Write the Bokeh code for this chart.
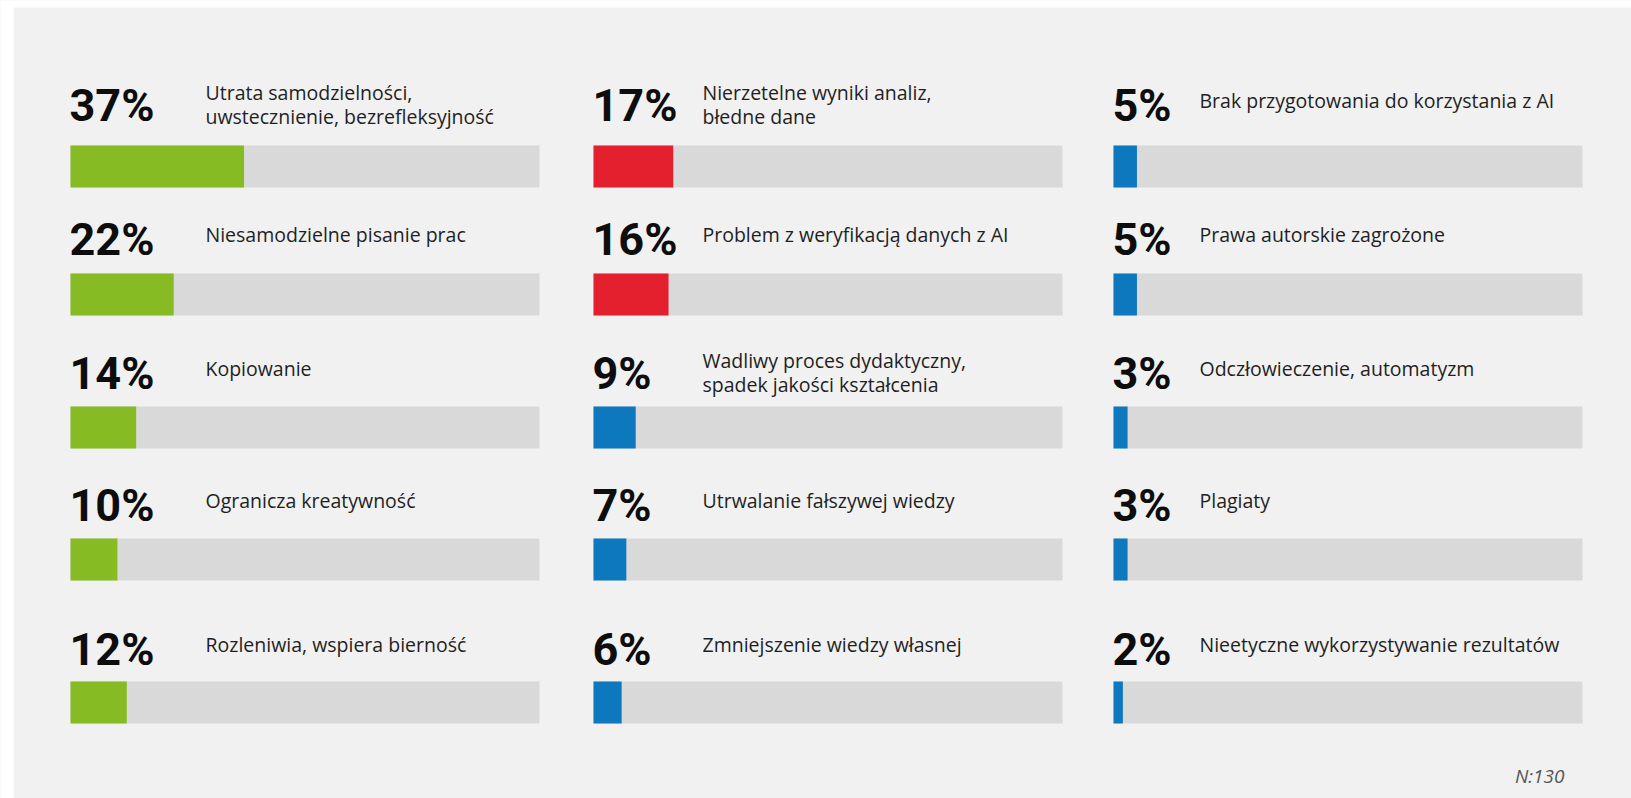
from bokeh.plotting import figure
from bokeh.models import Range1d, ColumnDataSource
from bokeh.core.properties import value
from bokeh.embed import file_html
from bokeh.resources import INLINE

# ---------------- data ----------------
col1_labels = ["Utrata samodzielności,\nuwstecznienie, bezrefleksyjność",
               "Niesamodzielne pisanie prac",
               "Kopiowanie",
               "Ogranicza kreatywność",
               "Rozleniwia, wspiera bierność"]
col1_values = [37, 22, 14, 10, 12]
col1_groups = ["green", "green", "green", "green", "green"]

col2_labels = ["Nierzetelne wyniki analiz,\nbłedne dane",
               "Problem z weryfikacją danych z AI",
               "Wadliwy proces dydaktyczny,\nspadek jakości kształcenia",
               "Utrwalanie fałszywej wiedzy",
               "Zmniejszenie wiedzy własnej"]
col2_values = [17, 16, 9, 7, 6]
col2_groups = ["red", "red", "blue", "blue", "blue"]

col3_labels = ["Brak przygotowania do korzystania z AI",
               "Prawa autorskie zagrożone",
               "Odczłowieczenie, automatyzm",
               "Plagiaty",
               "Nieetyczne wykorzystywanie rezultatów"]
col3_values = [5, 5, 3, 3, 2]
col3_groups = ["blue", "blue", "blue", "blue", "blue"]

note = "N:130"

# ---------------- layout / style ----------------
PALETTE = {"green": "#86BB23", "red": "#E41F2E", "blue": "#0E78BF"}
TRACK = "#D9D9D9"
PANEL = "#F1F1F1"

W, H = 1631, 798
COL_BAR_X = [70, 593, 1113]
COL_LABEL_X = [205, 702, 1199]
BAR_LEN = 469.0       # pixels for 100 %
ROW_NUM_TOP = [86, 220, 354, 486, 630]
ROW_BAR_TOP = [145, 273, 406, 538, 681]
BAR_H = 42

p = figure(width=W, height=H, output_backend="svg", toolbar_location=None,
           x_range=Range1d(0, W), y_range=Range1d(H, 0),
           min_border=0, background_fill_color=PANEL, border_fill_color=PANEL)
p.xaxis.visible = False
p.yaxis.visible = False
p.grid.visible = False
p.outline_line_color = None

# white page margins around the grey panel
p.quad(left=[0], right=[13], top=[0], bottom=[H], fill_color="white", line_color=None)
p.quad(left=[0], right=[W], top=[0], bottom=[7], fill_color="white", line_color=None)

columns = [(col1_labels, col1_values, col1_groups),
           (col2_labels, col2_values, col2_groups),
           (col3_labels, col3_values, col3_groups)]

tr = dict(left=[], right=[], top=[], bottom=[])
br = dict(left=[], right=[], top=[], bottom=[], color=[])
nums = dict(x=[], y=[], text=[])
labs = dict(x=[], y=[], text=[])

for ci, (labels, vals, groups) in enumerate(columns):
    x0 = COL_BAR_X[ci]
    for ri, (lab, v, g) in enumerate(zip(labels, vals, groups)):
        bt = ROW_BAR_TOP[ri]
        tr["left"].append(x0); tr["right"].append(x0 + BAR_LEN)
        tr["top"].append(bt); tr["bottom"].append(bt + BAR_H)
        br["left"].append(x0); br["right"].append(x0 + BAR_LEN * v / 100.0)
        br["top"].append(bt); br["bottom"].append(bt + BAR_H)
        br["color"].append(PALETTE[g])
        nt = ROW_NUM_TOP[ri]
        nums["x"].append(x0 - 1); nums["y"].append(nt + 19); nums["text"].append(f"{v}%")
        lines = lab.split("\n")
        if len(lines) == 1:
            labs["x"].append(COL_LABEL_X[ci]); labs["y"].append(nt + 14); labs["text"].append(lines[0])
        else:
            for li, ln in enumerate(lines):
                labs["x"].append(COL_LABEL_X[ci]); labs["y"].append(nt + 6 + 24 * li); labs["text"].append(ln)

p.quad(source=ColumnDataSource(tr), left="left", right="right", top="top", bottom="bottom",
       fill_color=TRACK, line_color=None)
p.quad(source=ColumnDataSource(br), left="left", right="right", top="top", bottom="bottom",
       fill_color="color", line_color=None)

p.text(source=ColumnDataSource(nums), x="x", y="y", text="text",
       text_font=value("Roboto"), text_font_size="45px", text_color="#0d0d0d",
       text_font_style="bold",
       text_baseline="alphabetic", text_align="left")
p.text(source=ColumnDataSource(labs), x="x", y="y", text="text",
       text_font=value("Open Sans"), text_font_size="19.5px", text_color="#1f1f1f",
       text_baseline="alphabetic", text_align="left")

p.text(x=[1564], y=[775], text=[note], text_font=value("Open Sans"),
       text_font_size="19px", text_font_style="italic", text_color="#555555",
       text_baseline="alphabetic", text_align="right")

open("out.html", "w").write(file_html(p, INLINE))
